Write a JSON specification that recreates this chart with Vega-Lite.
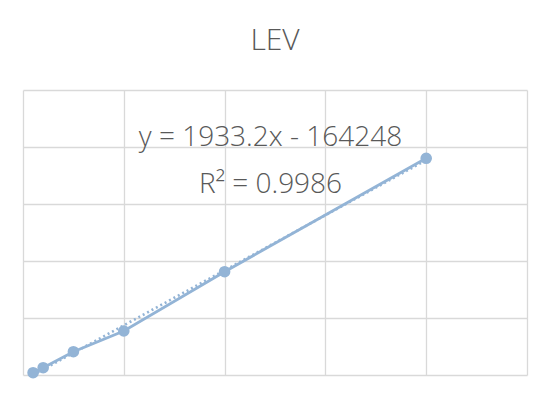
{
  "$schema": "https://vega.github.io/schema/vega-lite/v6.json",
  "autosize": "none",
  "width": 504,
  "height": 285,
  "padding": {"top": 90, "left": 23, "right": 24, "bottom": 24},
  "background": "white",
  "title": {
    "text": "LEV",
    "anchor": "middle",
    "frame": "group",
    "baseline": "alphabetic",
    "offset": 10,
    "font": "Open Sans",
    "fontSize": 30,
    "fontWeight": 300,
    "color": "#595959"
  },
  "config": {
    "view": {"stroke": null},
    "axis": {
      "grid": true,
      "gridColor": "#d9d9d9",
      "gridWidth": 1.3,
      "labels": false,
      "ticks": false,
      "domain": false,
      "title": null
    }
  },
  "layer": [
    {
      "data": {
        "values": [
          {"x": 90, "y": 8070},
          {"x": 100, "y": 25600},
          {"x": 130, "y": 81750},
          {"x": 180, "y": 154400},
          {"x": 280, "y": 362500},
          {"x": 480, "y": 760350}
        ]
      },
      "layer": [
        {
          "transform": [{"regression": "y", "on": "x", "method": "linear"}],
          "mark": {"type": "line", "color": "#93b4d6", "strokeWidth": 2.6, "strokeDash": [2, 3]},
          "encoding": {
            "x": {"field": "x", "type": "quantitative", "scale": {"domain": [80, 580], "nice": false, "zero": false}, "axis": {"values": [80, 180, 280, 380, 480, 580]}},
            "y": {"field": "y", "type": "quantitative", "scale": {"domain": [0, 1000000], "nice": false}, "axis": {"values": [0, 200000, 400000, 600000, 800000, 1000000]}}
          }
        },
        {
          "mark": {"type": "line", "color": "#93b4d6", "strokeWidth": 2.8, "point": {"filled": true, "size": 135, "color": "#93b4d6", "opacity": 1}},
          "encoding": {
            "x": {"field": "x", "type": "quantitative"},
            "y": {"field": "y", "type": "quantitative"}
          }
        }
      ]
    },
    {
      "data": {
        "values": [
          {"x": 325.5, "y": 803500, "label": "y = 1933.2x - 164248"},
          {"x": 325.5, "y": 638600, "label": "R² = 0.9986"}
        ]
      },
      "mark": {"type": "text", "align": "center", "baseline": "alphabetic", "font": "Open Sans", "fontSize": 28, "fontWeight": 300, "color": "#595959"},
      "encoding": {
        "x": {"field": "x", "type": "quantitative"},
        "y": {"field": "y", "type": "quantitative"},
        "text": {"field": "label"}
      }
    }
  ]
}
